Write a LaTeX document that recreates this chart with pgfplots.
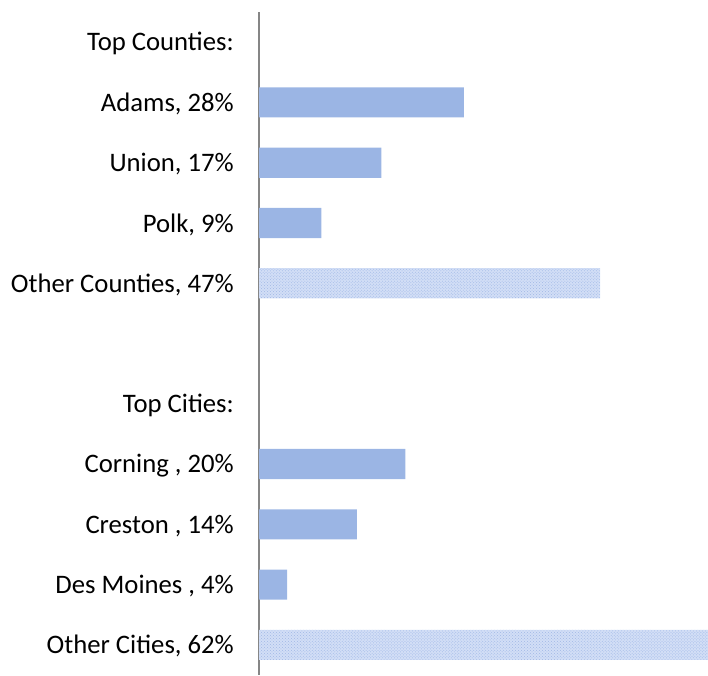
\documentclass[border=0pt]{standalone}
\usepackage{fontspec}
\setmainfont{Carlito}
\usepackage{pgfplots}
\pgfplotsset{compat=1.18}
\usetikzlibrary{patterns}

\definecolor{barblue}{RGB}{155,181,228}
\definecolor{hatchbase}{RGB}{210,222,246}
\definecolor{hatchdot}{RGB}{160,184,230}
\definecolor{axisgray}{RGB}{134,134,134}

\begin{document}
\begin{tikzpicture}
    \begin{axis}[
        scale only axis,
        width=449bp,
        height=663bp,
        xmin=0, xmax=62,
        ymin=-0.5, ymax=10.5,
        y dir=reverse,
        separate axis lines,
        axis x line=none,
        axis y line=left,
        y axis line style={-, draw=axisgray, line width=1.5bp},
        ytick={0,...,10},
        yticklabels={
            Top Counties:,
            {Adams, 28\%},
            {Union, 17\%},
            {Polk, 9\%},
            {Other Counties, 47\%},
            {},
            Top Cities:,
            {Corning , 20\%},
            {Creston , 14\%},
            {Des Moines , 4\%},
            {Other Cities, 62\%}
        },
        major tick length=0pt,
        yticklabel style={anchor=east, inner sep=0pt, xshift=-25bp, yshift=-1.5bp,
            font=\fontsize{26.8}{30}\selectfont},
        xbar,
        bar width=0.5,
        bar shift=0pt,
        clip=false
    ]
    % solid bars
    \addplot[draw=none, fill=barblue] coordinates {
        (28.3,1) (16.9,2) (8.6,3)
        (20.2,7) (13.5,8) (3.9,9)
    };
    % patterned bars (others)
    \addplot[draw=none, fill=hatchbase,
        postaction={pattern=crosshatch dots, pattern color=hatchdot}] coordinates {
        (47.1,4) (62,10)
    };
    \end{axis}
    \path ([xshift=-259bp]current axis.south west) rectangle ([yshift=12bp]current axis.north east);
\end{tikzpicture}
\end{document}
